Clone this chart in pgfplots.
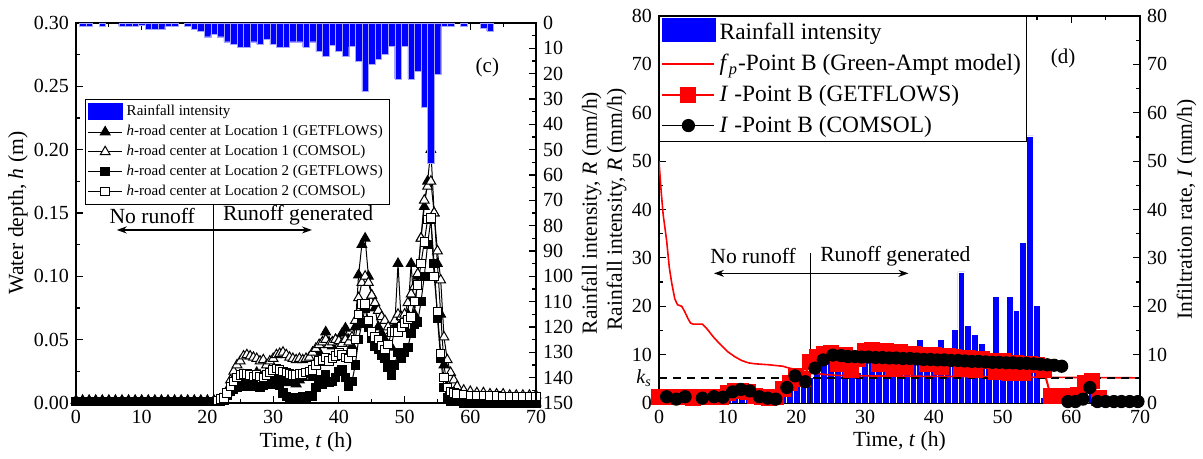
\documentclass[border=0pt]{standalone}
\usepackage{fontspec}
\setmainfont{Liberation Serif}
\usepackage{pgfplots}
\pgfplotsset{compat=1.18}
\usepackage{pgfplotstable}
\usetikzlibrary{arrows.meta}

% water depth (m): A = Loc1 GETFLOWS, B = Loc1 COMSOL, C = Loc2 GETFLOWS, D = Loc2 COMSOL
\pgfplotstableread{
t A B C D
0 0.002 nan 0.001 nan
1 0.002 nan 0.001 nan
2 0.002 nan 0.001 nan
3 0.002 nan 0.001 nan
4 0.002 nan 0.001 nan
5 0.002 nan 0.001 nan
6 0.002 nan 0.001 nan
7 0.002 nan 0.001 nan
8 0.002 nan 0.001 nan
9 0.002 nan 0.001 nan
10 0.002 nan 0.001 nan
11 0.002 nan 0.001 nan
12 0.002 nan 0.001 nan
13 0.002 nan 0.001 nan
14 0.002 nan 0.001 nan
15 0.002 nan 0.001 nan
16 0.002 nan 0.001 nan
17 0.002 nan 0.001 nan
18 0.002 nan 0.001 nan
19 0.002 nan 0.001 nan
20 0.002 nan 0.001 nan
21 0.002 nan 0.001 nan
21.5 0.002 0.002 0.001 0.002
22 0.002 0.003 0.001 0.003
22.5 0.003 0.005 0.002 0.004
23 0.008 0.010 0.006 0.008
23.5 0.012 0.018 0.009 0.013
24 0.015 0.025 0.011 0.017
24.5 0.018 0.030 0.012 0.020
25 0.020 0.033 0.013 0.022
25.5 0.022 0.037 0.014 0.023
26 0.021 0.038 0.014 0.023
26.5 0.019 0.037 0.013 0.022
27 0.020 0.036 0.014 0.021
27.5 0.024 0.035 0.013 0.022
28 0.022 0.033 0.012 0.021
28.5 0.021 0.034 0.014 0.020
29 0.019 0.030 0.015 0.022
29.5 0.023 0.033 0.016 0.024
30 0.020 0.035 0.015 0.026
30.5 0.018 0.038 0.016 0.027
31 0.020 0.039 0.014 0.026
31.5 0.017 0.040 0.008 0.025
32 0.019 0.038 0.005 0.024
32.5 0.016 0.036 0.004 0.023
33 0.018 0.035 0.003 0.022
33.5 0.015 0.034 0.004 0.022
34 0.018 0.035 0.003 0.023
34.5 0.020 0.034 0.005 0.023
35 0.022 0.035 0.004 0.024
35.5 0.024 0.036 0.006 0.025
36 0.020 0.040 0.005 0.026
36.5 0.030 0.043 0.012 0.030
37 0.040 0.046 0.018 0.033
37.5 0.048 0.048 0.015 0.034
38 0.056 0.050 0.022 0.036
38.5 0.048 0.046 0.016 0.033
39 0.045 0.048 0.017 0.035
39.5 0.050 0.050 0.020 0.037
40 0.050 0.049 0.025 0.040
40.5 0.055 0.047 0.026 0.038
41 0.059 0.050 0.020 0.036
41.5 0.050 0.048 0.013 0.035
42 0.045 0.052 0.017 0.040
42.5 0.060 0.065 0.030 0.050
43 0.101 0.083 0.050 0.070
43.5 0.125 0.095 0.063 0.078
44 0.130 0.100 0.075 0.078
44.5 0.100 0.095 0.060 0.065
45 0.085 0.085 0.051 0.056
45.5 0.075 0.079 0.045 0.052
46 0.060 0.073 0.042 0.050
46.5 0.055 0.068 0.038 0.045
47 0.050 0.065 0.035 0.042
47.5 0.045 0.060 0.028 0.046
48 0.044 0.057 0.022 0.056
48.5 0.060 0.065 0.030 0.056
49 0.110 0.070 0.040 0.056
49.5 0.063 0.068 0.035 0.060
50 0.060 0.070 0.040 0.063
50.5 0.070 0.079 0.044 0.066
51 0.110 0.086 0.055 0.068
51.5 0.070 0.092 0.062 0.080
52 0.100 0.102 0.064 0.093
52.5 0.130 0.130 0.080 0.110
53 0.155 0.160 0.100 0.127
53.5 0.175 0.171 0.125 0.145
54 0.200 0.175 0.145 0.146
54.5 0.150 0.150 0.110 0.100
55 0.110 0.120 0.067 0.072
55.5 0.070 0.097 0.035 0.039
56 0.030 0.052 0.012 0.020
56.5 0.012 0.034 0.004 0.012
57 0.004 0.024 0.001 0.009
57.5 0.002 0.018 0.001 0.008
58 0.001 0.013 0.001 0.007
59 0.001 0.010 0.000 0.0065
60 0.001 0.009 0.000 0.006
61 0.001 0.008 0.000 0.006
62 0.001 0.008 0.000 0.006
63 0.000 0.007 0.000 0.0055
64 0.000 0.007 0.000 0.0055
65 0.000 0.007 0.000 0.005
66 0.000 0.006 0.000 0.005
67 0.000 0.006 0.000 0.005
68 0.000 0.006 0.000 0.005
69 0.000 0.006 0.000 0.005
70 0.000 0.006 0.000 0.005
}\depthdata

% rainfall intensity (mm/h), hourly
\pgfplotstableread{
t R
1 1.2
2 1.2
4 1.2
7 1.2
8 1.2
9 1.2
10 1.0
11 2.5
12 2.5
13 2.5
14 1.2
15 1.2
17 1.2
18 2.5
19 3.3
20 5.4
21 4.5
22 5.4
23 7.4
24 8.4
25 9.5
26 9.5
27 7.4
28 8.4
29 6.3
30 8.4
31 9.5
32 9.5
33 7.4
34 7.4
35 9.5
36 7.4
37 11.2
38 13.2
39 8.7
40 11.2
41 13.2
42 9.3
43 15.2
44 27.1
45 16.1
46 14.2
47 12.3
48 9.3
49 22.1
50 9.3
51 22.1
52 19.1
53 33.2
54 55.2
55 20.1
56 1.2
57 1.2
59 1.2
62 2.1
63 3.2
}\raindata

\pgfplotsset{
  myaxis/.style={
    scale only axis,
    tick align=inside,
    axis line style={line width=0.8pt},
    major tick length=3.5pt, minor tick length=2pt,
    every tick/.append style={black, line width=0.6pt},
    tick label style={font=\fontsize{10}{12}\selectfont},
    label style={font=\fontsize{10.8}{13}\selectfont},
    /pgf/number format/assume math mode=true,
    xmin=0, xmax=70, xtick={0,10,...,70}, minor x tick num=1,
  },
  widelegend/.style={legend image code/.code={
    \draw[mark repeat=2,mark phase=2,##1] plot coordinates {(0pt,0pt) (13pt,0pt) (26pt,0pt)};}},
}

\begin{document}
\begin{tikzpicture}
\useasboundingbox (0,0) rectangle (601.5pt,229.5pt);

% ---------------- panel (c) ----------------
\begin{axis}[myaxis, at={(38pt,28pt)}, anchor=south west, width=230pt, height=190pt,
  ymin=0, ymax=0.30, ytick={0,0.05,0.1,0.15,0.2,0.25,0.3}, minor y tick num=1,
  scaled y ticks=false,
  y tick label style={/pgf/number format/fixed, /pgf/number format/fixed zerofill,
    /pgf/number format/precision=2},
  xtick pos=both, ytick pos=left,
  xlabel={Time, \textit{t} (h)}, ylabel={Water depth, \textit{h} (m)},
  xlabel style={at={(axis description cs:0.5,-0.103)}, anchor=center},
  ylabel style={at={(axis description cs:-0.126,0.5)}, anchor=center},
  legend style={at={(0.02,0.80)}, anchor=north west, font=\fontsize{7.5}{8}\selectfont,
    draw=black, inner sep=1pt, row sep=-0.8pt},
  legend cell align=left,
]
\addlegendimage{legend image code/.code={\fill[blue] (0pt,-3.5pt) rectangle (17pt,4.5pt);}}
\addlegendentry{Rainfall intensity}
\addplot[black, line width=0.5pt, mark=triangle*, mark size=2.8pt, mark options={solid, fill=black}]
  table[x=t, y=A]{\depthdata};
\addlegendentry{\textit{h}-road center at Location 1 (GETFLOWS)}
\addplot[black, line width=0.5pt, mark=triangle*, mark size=2.8pt, mark options={solid, fill=white}]
  table[x=t, y=B]{\depthdata};
\addlegendentry{\textit{h}-road center at Location 1 (COMSOL)}
\addplot[black, line width=0.5pt, mark=square*, mark size=2.1pt, mark options={solid, fill=black}]
  table[x=t, y=C]{\depthdata};
\addlegendentry{\textit{h}-road center at Location 2 (GETFLOWS)}
\addplot[black, line width=0.5pt, mark=square*, mark size=2.1pt, mark options={solid, fill=white}]
  table[x=t, y=D]{\depthdata};
\addlegendentry{\textit{h}-road center at Location 2 (COMSOL)}

\draw[line width=0.6pt] (axis cs:20.9,0) -- (axis cs:20.9,0.156);
\draw[-{Stealth[length=5pt,width=3.5pt]}, line width=0.6pt] (axis cs:20.9,0.1366) -- (axis cs:6.2,0.1366);
\draw[-{Stealth[length=5pt,width=3.5pt]}, line width=0.6pt] (axis cs:20.9,0.1366) -- (axis cs:35.9,0.1366);
\node[font=\fontsize{10.8}{13}\selectfont] at (axis cs:11.6,0.148) {No runoff};
\node[font=\fontsize{10.8}{13}\selectfont] at (axis cs:33.8,0.148) {Runoff generated};
\node[font=\fontsize{10.5}{13}\selectfont] at (axis cs:62.6,0.265) {(c)};
\end{axis}

\begin{axis}[myaxis, at={(38pt,28pt)}, anchor=south west, width=230pt, height=190pt,
  axis y line*=right, axis x line=none, y dir=reverse,
  ymin=0, ymax=150, ytick={0,10,...,150}, minor y tick num=1,
  ylabel={Rainfall intensity, \textit{R} (mm/h)},
  ylabel style={at={(axis description cs:1.121,0.5)}, anchor=center},
]
\addplot[ybar, bar width=1, fill=blue, draw=blue!35!white, line width=0.15pt]
  table[x=t, y=R]{\raindata};
\end{axis}

% ---------------- panel (d) ----------------
\begin{axis}[myaxis, at={(329.5pt,28pt)}, anchor=south west, width=240.5pt, height=193.5pt,
  ymin=0, ymax=80, ytick={0,10,...,80}, minor y tick num=1,
  xtick pos=both, ytick pos=left,
  extra y ticks={5.2}, extra y tick labels={\textit{k}\textsubscript{\textit{s}}},
  extra y tick style={major tick length=0pt},
  xlabel={Time, \textit{t} (h)}, ylabel={Rainfall intensity, \textit{R} (mm/h)},
  xlabel style={at={(axis description cs:0.5,-0.10)}, anchor=center},
  ylabel style={at={(axis description cs:-0.088,0.5)}, anchor=center},
  legend style={at={(0,1)}, anchor=north west, font=\fontsize{11.7}{13}\selectfont,
    draw=black, inner sep=1pt, row sep=1.8pt},
  legend cell align=left, widelegend,
]
\addplot[ybar, bar width=1, fill=blue, draw=white, line width=0.3pt,
  legend image code/.code={\fill[blue] (0pt,-4.5pt) rectangle (26.5pt,7pt);}]
  table[x=t, y=R]{\raindata};
\addlegendentry{Rainfall intensity}

\addplot[red, line width=0.8pt] coordinates {
  (0,50) (0.3,44) (0.6,39) (1.1,33.7) (1.5,28) (1.85,24.8) (2.3,21.5) (2.7,20.3)
  (3.3,20) (3.7,19) (4.2,17.5) (4.6,16.5) (5,16.3) (6.3,16.3) (7,15.3) (8,13.5)
  (9,12) (10,10.6) (11,9.6) (12,8.8) (13,8.3) (14,8.1) (16,7.9) (18,7.6) (19,7.2)
  (20,6.9) (21,6.6) (22,6.3) (24,5.9) (26,5.7) (30,5.6) (40,5.5) (50,5.4) (57,5.3) (70,5.2)};
\addlegendentry{\textit{f}\textsubscript{\textit{p}}-Point B (Green-Ampt model)}

\addplot[black, line width=0.8pt, dash pattern=on 4pt off 3pt, forget plot]
  coordinates {(0,5.2) (70,5.2)};

\addplot[red, line width=1pt, mark=square*, mark size=3.5pt, mark options={solid, fill=red}]
  coordinates {
  (0,1.2) (1,1.2) (2,1.3) (3,1.2) (4,1.2) (5,1.1) (6,1.2) (7,1.2) (8,1.3) (9,1.3)
  (10,2.0) (11,2.4) (12,2.5) (13,2.3) (14,1.5) (15,1.2) (16,1.0) (17,1.2) (18,2.8)
  (19,4.2) (20,5.5) (21,5.0) (22,8.5) (23,9.5) (24,10.2) (25,10.3) (26,8.0) (27,10.0)
  (28,6.8) (29,9.0) (30,10.8) (31,11.0) (32,8.0) (33,10.8) (34,7.0) (35,10.5) (36,7.5)
  (37,10.2) (38,10.0) (39,8.0) (40,9.9) (41,7.5) (42,9.7) (43,9.5) (44,7.2) (45,9.3)
  (46,6.8) (47,9.0) (48,8.7) (49,6.5) (50,8.6) (51,6.3) (52,8.3) (53,6.2) (54,8.1)
  (55,7.8) (56,6.8) (57,1.5) (58,1.5) (59,1.5) (60,1.5) (61,1.7) (62,4.2) (63,4.5)
  (64,1.0)};
\addlegendentry{\textit{I} -Point B (GETFLOWS)}

\addplot[black, line width=0.6pt, mark=*, mark size=3pt, mark options={solid, fill=black}]
  coordinates {
  (1.1,1.3) (2.5,0.8) (3.8,1.3) (6.3,1.0) (8.0,1.3) (9.3,1.2) (10.7,2.3) (11.9,2.8)
  (13.2,2.5) (14.6,1.3) (15.8,1.0) (17.0,0.8) (18.6,3.2) (19.8,5.6) (21.3,4.4)
  (22.7,7.2) (23.9,8.9) (25.3,9.9) (26.5,9.8) (27.5,9.6) (28.5,9.6) (29.5,9.5)
  (30.5,9.5) (31.5,9.4) (32.5,9.4) (33.5,9.3) (34.5,9.3) (35.5,9.2) (36.5,9.2)
  (37.5,9.1) (38.5,9.0) (39.5,9.0) (40.5,8.9) (41.5,8.9) (42.5,8.8) (43.5,8.8)
  (44.5,8.7) (45.5,8.6) (46.5,8.6) (47.5,8.5) (48.5,8.4) (49.5,8.4) (50.5,8.3)
  (51.5,8.3) (52.5,8.2) (53.5,8.2) (54.5,8.1) (55.5,8.0) (56.5,7.9) (57.5,7.8) (58.6,7.6)};
\addlegendentry{\textit{I} -Point B (COMSOL)}
\addplot[black, line width=0.6pt, mark=*, mark size=3pt, mark options={solid, fill=black}, forget plot]
  coordinates {
  (59.5,0.3) (60.6,0.3) (61.7,0.8) (62.7,3.2) (63.8,0.3) (65,0.3) (66.2,0.3)
  (67.3,0.3) (68.5,0.3) (69.7,0.3)};

\draw[line width=0.6pt] (axis cs:22.1,0) -- (axis cs:22.1,31);
\draw[-{Stealth[length=5pt,width=3.5pt]}, line width=0.6pt] (axis cs:22.1,26.8) -- (axis cs:8.0,26.8);
\draw[-{Stealth[length=5pt,width=3.5pt]}, line width=0.6pt] (axis cs:22.1,26.8) -- (axis cs:36.3,26.8);
\node[font=\fontsize{10.8}{13}\selectfont] at (axis cs:13.7,30.3) {No runoff};
\node[font=\fontsize{10.8}{13}\selectfont] at (axis cs:34.4,30.3) {Runoff generated};
\node[font=\fontsize{10.5}{13}\selectfont] at (axis cs:58.8,71.3) {(d)};
\end{axis}

\begin{axis}[myaxis, at={(329.5pt,28pt)}, anchor=south west, width=240.5pt, height=193.5pt,
  axis y line*=right, axis x line=none,
  ymin=0, ymax=80, ytick={0,10,...,80}, minor y tick num=1,
  ylabel={Infiltration rate, \textit{I} (mm/h)},
  ylabel style={at={(axis description cs:1.097,0.5)}, anchor=center},
]
\addplot[draw=none] coordinates {(0,0)};
\end{axis}
\end{tikzpicture}
\end{document}
